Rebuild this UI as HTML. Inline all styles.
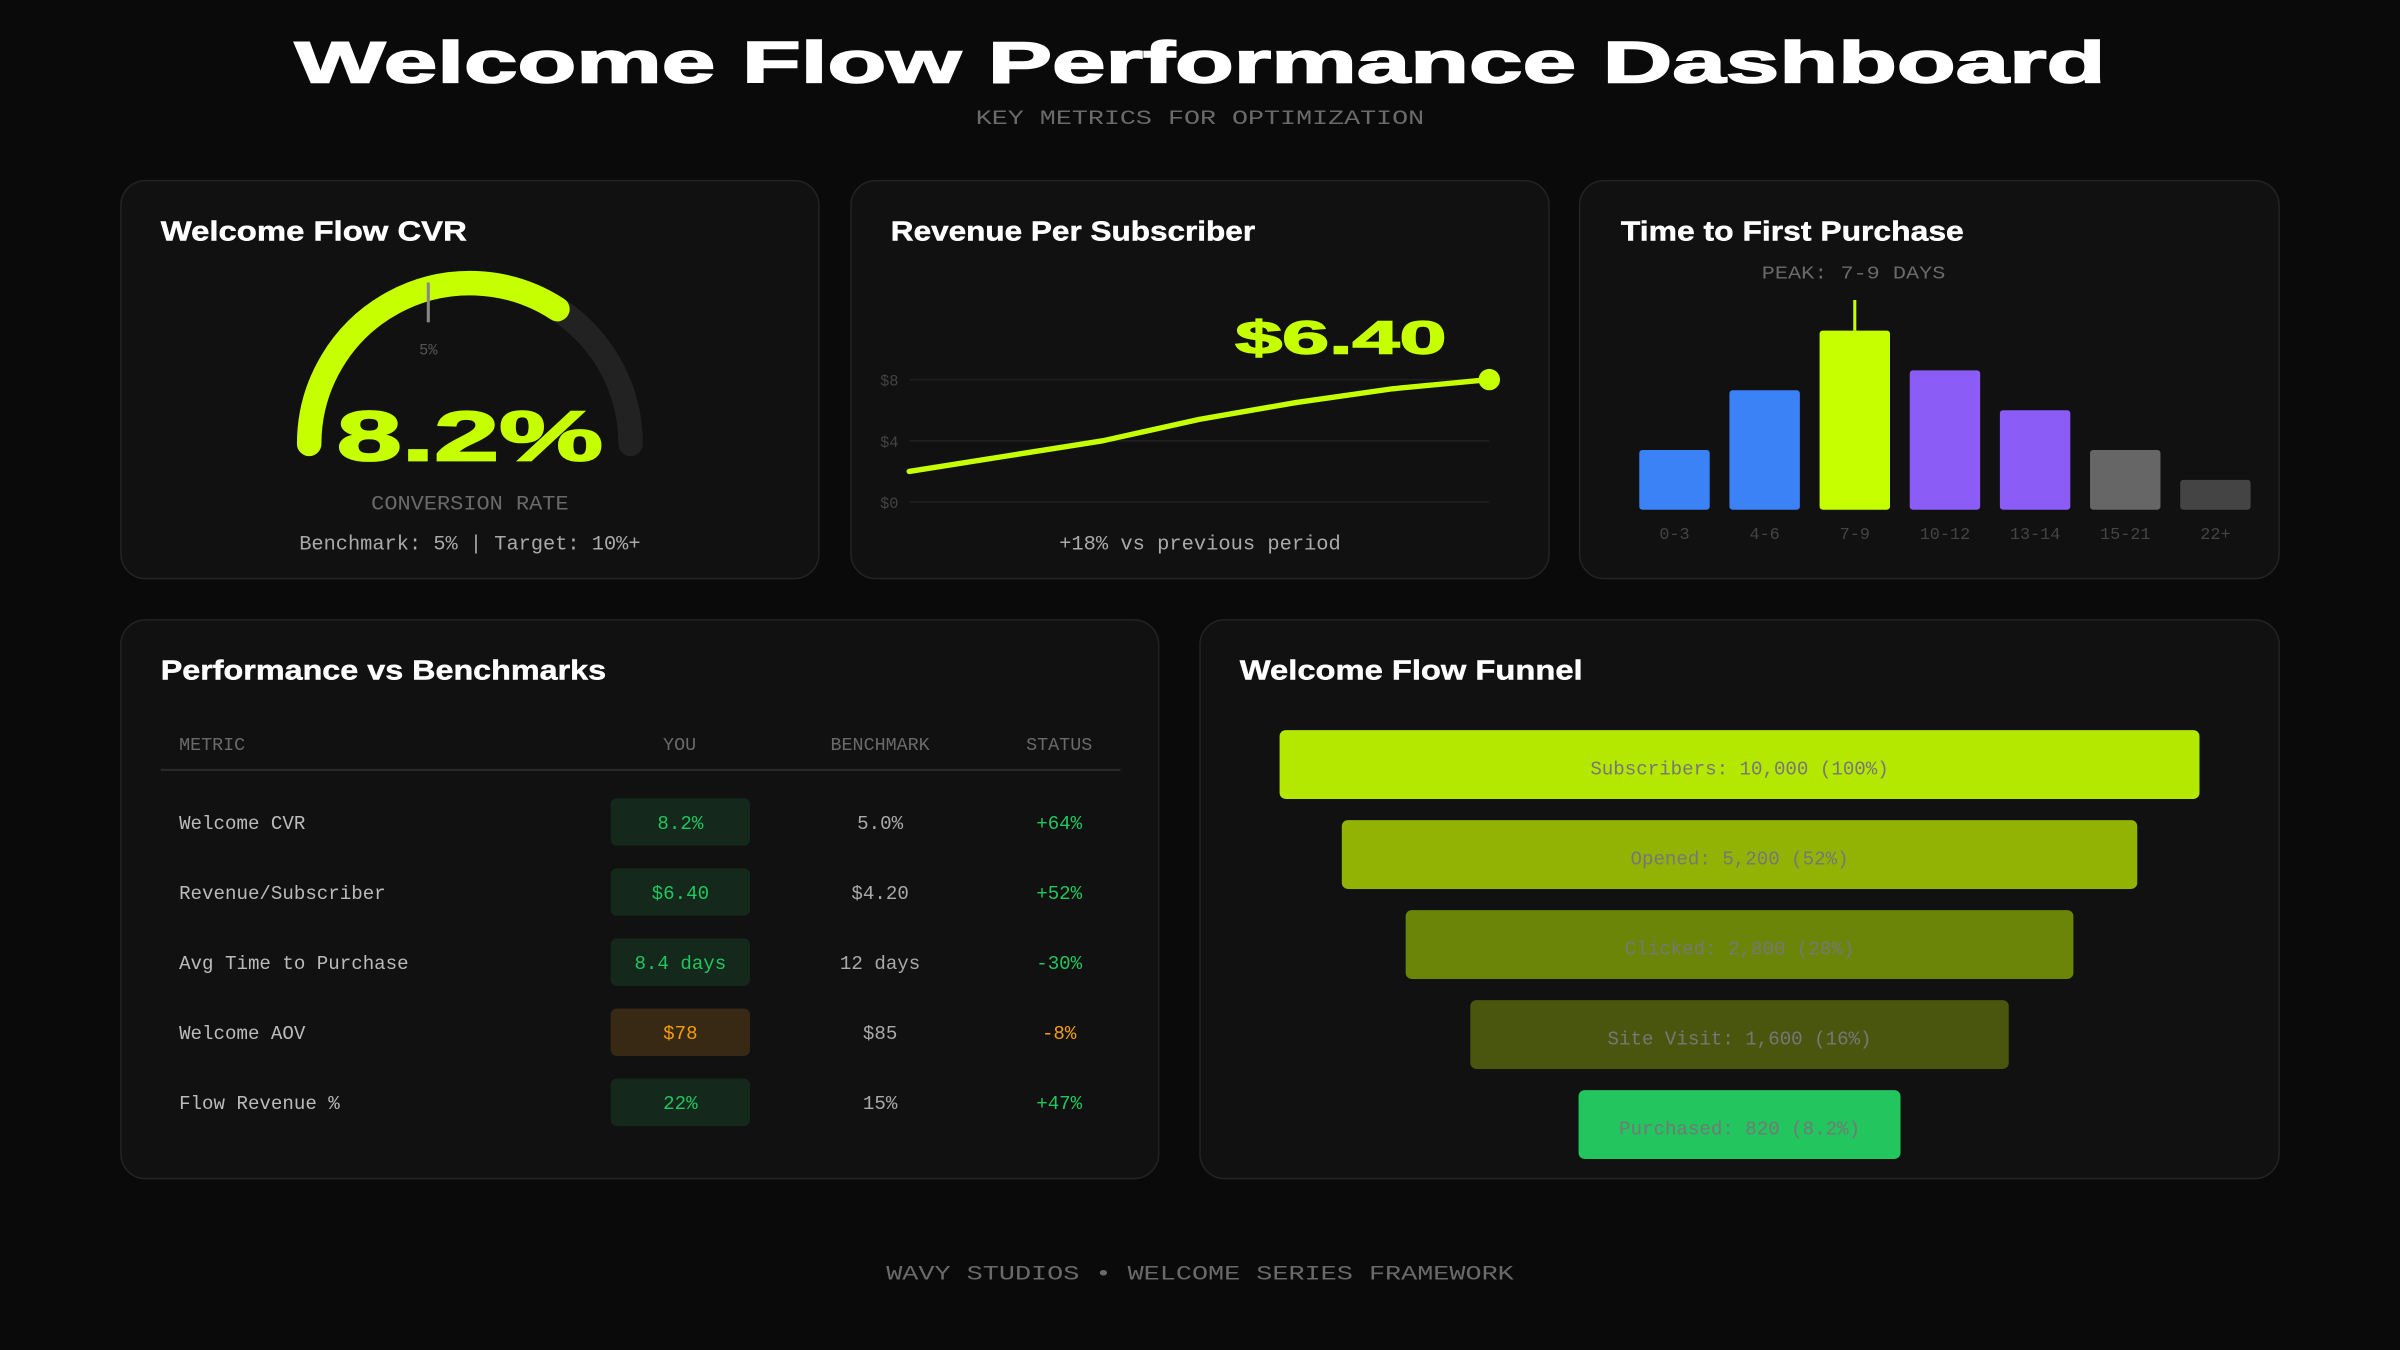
<!DOCTYPE html>
<html><head><meta charset="utf-8"><style>
html,body{margin:0;padding:0;background:#0a0a0a;width:2400px;height:1350px;overflow:hidden}
svg{display:block}
.mono{font-family:"Liberation Mono",monospace}
.sans{font-family:"Liberation Sans",sans-serif;font-weight:bold}
</style></head><body>
<svg id="root" width="2400" height="1350" viewBox="0 0 1568 882" xmlns="http://www.w3.org/2000/svg">
<rect x="0" y="0" width="1568" height="882" fill="#0a0a0a"/>
<text x="784" y="54" text-anchor="middle" class="sans" font-size="38" fill="#fff" stroke="#fff" stroke-width="1" textLength="1183" lengthAdjust="spacingAndGlyphs">Welcome Flow Performance Dashboard</text>
<text x="784" y="81" text-anchor="middle" class="mono" font-size="13" fill="#6a6a6a" textLength="293" lengthAdjust="spacingAndGlyphs">KEY METRICS FOR OPTIMIZATION</text>

<rect x="79" y="118" width="456" height="260" rx="16" fill="#111" stroke="#232323"/>
<rect x="556" y="118" width="456" height="260" rx="16" fill="#111" stroke="#232323"/>
<rect x="1032" y="118" width="457" height="260" rx="16" fill="#111" stroke="#232323"/>
<rect x="79" y="405" width="678" height="365" rx="16" fill="#111" stroke="#232323"/>
<rect x="784" y="405" width="705" height="365" rx="16" fill="#111" stroke="#232323"/>

<text x="105" y="157" class="sans" font-size="18" fill="#fff" stroke="#fff" stroke-width="0.3" textLength="200" lengthAdjust="spacingAndGlyphs">Welcome Flow CVR</text>
<text x="582" y="157" class="sans" font-size="18" fill="#fff" stroke="#fff" stroke-width="0.3" textLength="238" lengthAdjust="spacingAndGlyphs">Revenue Per Subscriber</text>
<text x="1059" y="157" class="sans" font-size="18" fill="#fff" stroke="#fff" stroke-width="0.3" textLength="224" lengthAdjust="spacingAndGlyphs">Time to First Purchase</text>
<text x="105" y="444" class="sans" font-size="18" fill="#fff" stroke="#fff" stroke-width="0.3" textLength="291" lengthAdjust="spacingAndGlyphs">Performance vs Benchmarks</text>
<text x="810" y="444" class="sans" font-size="18" fill="#fff" stroke="#fff" stroke-width="0.3" textLength="224" lengthAdjust="spacingAndGlyphs">Welcome Flow Funnel</text>

<g id="gauge"></g>
<text x="307" y="301" text-anchor="middle" class="sans" font-size="46" fill="#c6ff00" stroke="#c6ff00" stroke-width="1.2" textLength="174" lengthAdjust="spacingAndGlyphs">8.2%</text>
<text x="307" y="333" text-anchor="middle" class="mono" font-size="13" fill="#6a6a6a" textLength="129" lengthAdjust="spacingAndGlyphs">CONVERSION RATE</text>
<text x="307" y="359" text-anchor="middle" class="mono" font-size="13" fill="#aaa" textLength="223" lengthAdjust="spacingAndGlyphs">Benchmark: 5% | Target: 10%+</text>

<g id="revchart"></g>
<text x="876" y="231" text-anchor="middle" class="sans" font-size="30" fill="#c6ff00" stroke="#c6ff00" stroke-width="0.9" textLength="138" lengthAdjust="spacingAndGlyphs">$6.40</text>
<text x="784" y="359" text-anchor="middle" class="mono" font-size="13" fill="#aaa" textLength="184" lengthAdjust="spacingAndGlyphs">+18% vs previous period</text>

<text x="1211" y="182" text-anchor="middle" class="mono" font-size="12" fill="#6a6a6a" textLength="120" lengthAdjust="spacingAndGlyphs">PEAK: 7-9 DAYS</text>
<g id="barchart"></g>

<g id="table"></g>
<g id="funnel"></g>

<text x="784" y="836" text-anchor="middle" class="mono" font-size="13" fill="#6a6a6a" textLength="410" lengthAdjust="spacingAndGlyphs">WAVY STUDIOS • WELCOME SERIES FRAMEWORK</text>
</svg>
<script>
// ---- data ----
const gaugeValue = 8.2;
const gaugeMax = 12;
const gaugeBenchmark = 5;

const revPoints = ["P1","P2","P3","P4","P5","P6","P7"];
const revValues = [2.0, 3.0, 4.0, 5.4, 6.5, 7.4, 8.0];
const revTicks = [0, 4, 8];
const revTickLabels = ["$0", "$4", "$8"];

const ttpCategories = ["0-3","4-6","7-9","10-12","13-14","15-21","22+"];
const ttpValues = [12, 24, 36, 28, 20, 12, 6];
const ttpPeakIndex = 2;

const tblMetrics = ["Welcome CVR","Revenue/Subscriber","Avg Time to Purchase","Welcome AOV","Flow Revenue %"];
const tblYou = ["8.2%","$6.40","8.4 days","$78","22%"];
const tblBenchmark = ["5.0%","$4.20","12 days","$85","15%"];
const tblStatus = ["+64%","+52%","-30%","-8%","+47%"];
const tblGood = [true, true, true, false, true];

const funnelStages = ["Subscribers","Opened","Clicked","Site Visit","Purchased"];
const funnelValues = [10000, 5200, 2800, 1600, 820];
const funnelPctLabels = ["100%","52%","28%","16%","8.2%"];

// ---- helpers ----
const NS = "http://www.w3.org/2000/svg";
function mk(tag, attrs, parent){
  const e = document.createElementNS(NS, tag);
  for (const k in attrs) e.setAttribute(k, attrs[k]);
  parent.appendChild(e);
  return e;
}

// ---- gauge ----
(function(){
  const g = document.getElementById('gauge');
  const cx = 307, cy = 290, r = 105;
  const pt = f => { const t = f*Math.PI; return [cx - r*Math.cos(t), cy - r*Math.sin(t)]; };
  const [x0,y0] = pt(0), [x1,y1] = pt(1);
  let e = mk('path', {d:`M${x0},${y0} A${r},${r} 0 0 1 ${x1},${y1}`, fill:'none', stroke:'#222', 'stroke-width':16, 'stroke-linecap':'round'}, g);
  
  
  const [vx,vy] = pt(gaugeValue/gaugeMax);
  e = mk('path', {d:`M${x0},${y0} A${r},${r} 0 0 1 ${vx},${vy}`, fill:'none', stroke:'#c6ff00', 'stroke-width':16, 'stroke-linecap':'round'}, g);
  
  
  const [bx,by] = pt(gaugeBenchmark/gaugeMax);
  e = mk('line', {x1:bx, y1:by-4, x2:bx, y2:by+22, stroke:'#888', 'stroke-width':2}, g);
  
  
  e = mk('text', {x:bx, y:by+43, 'text-anchor':'middle', 'font-size':10, fill:'#555', 'class':'mono'}, g);
  e.textContent = gaugeBenchmark + '%';
  
  
})();

// ---- revenue line ----
(function(){
  const g = document.getElementById('revchart');
  const x0 = 594, x1 = 973, yBase = 328, pxPer = 10;
  const X = i => x0 + (x1-x0)*i/(revPoints.length-1);
  const Y = v => yBase - v*pxPer;
  revTicks.forEach((t,i)=>{
    let e = mk('line', {x1:x0, x2:x1, y1:Y(t), y2:Y(t), stroke:'#1f1f1f', 'stroke-width':1}, g);
    
    
    e = mk('text', {x:581, y:Y(t)+4, 'text-anchor':'middle', 'font-size':10, fill:'#444', 'class':'mono'}, g);
    e.textContent = revTickLabels[i];
    
    
  });
  const d = revValues.map((v,i)=>(i?'L':'M')+X(i)+','+Y(v)).join(' ');
  let e = mk('path', {d, fill:'none', stroke:'#c6ff00', 'stroke-width':3.5, 'stroke-linejoin':'round', 'stroke-linecap':'round'}, g);
  
  
  const n = revValues.length-1;
  e = mk('circle', {cx:X(n), cy:Y(revValues[n]), r:7, fill:'#c6ff00'}, g);
  
  
})();

// ---- time to purchase bars ----
(function(){
  const g = document.getElementById('barchart');
  const base = 333, pxPer = 3.25, startX = 1071, step = 58.9, bw = 46;
  const colors = ['#3b82f6','#3b82f6','#c6ff00','#8b5cf6','#8b5cf6','#666666','#444444'];
  ttpValues.forEach((v,i)=>{
    const x = startX + i*step, h = v*pxPer;
    let e = mk('rect', {x, y:base-h, width:bw, height:h, rx:2, fill:colors[i]}, g);
    
    
    e = mk('text', {x:x+bw/2, y:352, 'text-anchor':'middle', 'font-size':11, fill:'#444', 'class':'mono'}, g);
    e.textContent = ttpCategories[i];
    
    
    if (i === ttpPeakIndex) {
      e = mk('line', {x1:x+bw/2, x2:x+bw/2, y1:base-h-20, y2:base-h, stroke:'#c6ff00', 'stroke-width':2}, g);
      
      
    }
  });
})();

// ---- benchmarks table ----
(function(){
  const g = document.getElementById('table');
  const heads = [['METRIC',117,'start'],['YOU',444,'middle'],['BENCHMARK',575,'middle'],['STATUS',692,'middle']];
  heads.forEach(h=>{
    const e = mk('text', {x:h[1], y:490, 'text-anchor':h[2], 'font-size':12, fill:'#6a6a6a', 'class':'mono'}, g);
    e.textContent = h[0];
    
    
  });
  let e = mk('line', {x1:105, x2:732, y1:503, y2:503, stroke:'#2a2a2a', 'stroke-width':1.5}, g);
  
  
  tblMetrics.forEach((m,i)=>{
    const cy = 537 + i*45.8;
    const good = tblGood[i];
    const fg = good ? '#22c55e' : '#f59e0b';
    let t = mk('text', {x:117, y:cy+4.5, 'font-size':12.5, fill:'#bbb', 'class':'mono'}, g);
    t.textContent = m;
    
    
    let p = mk('rect', {x:399, y:cy-15.5, width:91, height:31, rx:4, fill: good ? '#14291c' : '#382914'}, g);
    
    
    t = mk('text', {x:444.5, y:cy+4.5, 'text-anchor':'middle', 'font-size':12.5, fill:fg, 'class':'mono'}, g);
    t.textContent = tblYou[i];
    
    
    t = mk('text', {x:575, y:cy+4.5, 'text-anchor':'middle', 'font-size':12.5, fill:'#aaa', 'class':'mono'}, g);
    t.textContent = tblBenchmark[i];
    
    
    t = mk('text', {x:692, y:cy+4.5, 'text-anchor':'middle', 'font-size':12.5, fill:fg, 'class':'mono'}, g);
    t.textContent = tblStatus[i];
    
    
  });
})();

// ---- funnel ----
(function(){
  const g = document.getElementById('funnel');
  const cx = 1136.5, maxW = 601, top0 = 477, stepY = 58.8, h = 45;
  const colors = ['#b5e800','#93b304','#6b8508','#4a560e','#22c55e'];
  const lmax = Math.log(funnelValues[0]), lmin = Math.log(funnelValues[funnelValues.length-1]);
  funnelValues.forEach((v,i)=>{
    const f = (Math.log(v)-lmin)/(lmax-lmin);
    const w = maxW*(0.35 + 0.65*Math.pow(f,0.77));
    const y = top0 + i*stepY;
    let e = mk('rect', {x:cx-w/2, y, width:w, height:h, rx:4, fill:colors[i]}, g);
    
    
    e = mk('text', {x:cx, y:y+h/2+6.5, 'text-anchor':'middle', 'font-size':12.5, fill:'#777', 'class':'mono'}, g);
    e.textContent = funnelStages[i] + ': ' + v.toLocaleString('en-US') + ' (' + funnelPctLabels[i] + ')';
    
    
  });
})();
</script>
</body></html>
